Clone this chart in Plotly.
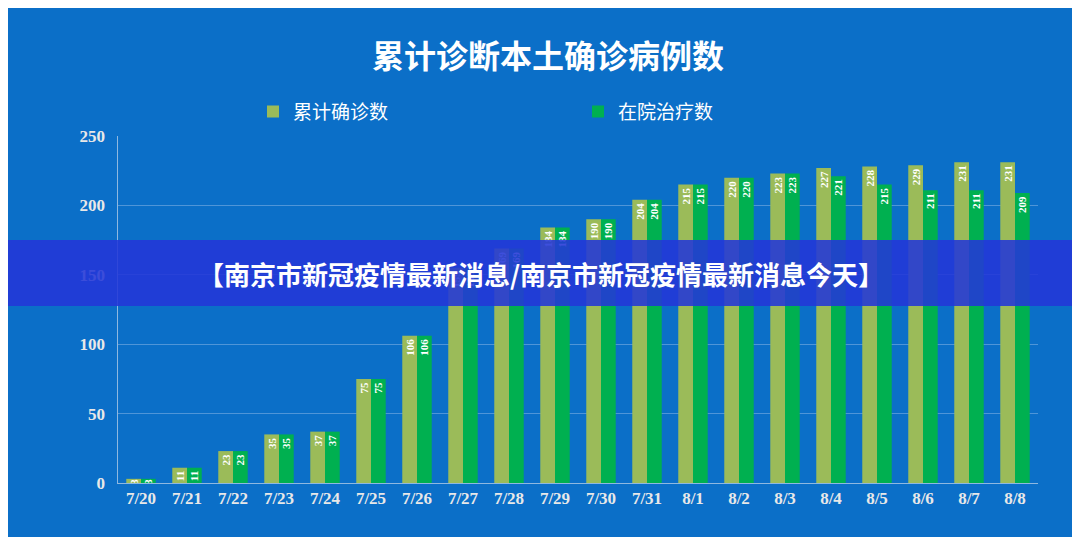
import plotly.graph_objects as go

dates = ["7/20", "7/21", "7/22", "7/23", "7/24", "7/25", "7/26", "7/27", "7/28", "7/29",
         "7/30", "7/31", "8/1", "8/2", "8/3", "8/4", "8/5", "8/6", "8/7", "8/8"]
cumulative = [3, 11, 23, 35, 37, 75, 106, 155, 169, 184, 190, 204, 215, 220, 223, 227, 228, 229, 231, 231]
in_hospital = [3, 11, 23, 35, 37, 75, 106, 155, 169, 184, 190, 204, 215, 220, 223, 221, 215, 211, 211, 209]

bg = "#0b6fc8"
fig = go.Figure()
fig.add_trace(go.Bar(x=dates, y=cumulative, name="累计确诊数", marker_color="#9bbb59",
                     text=cumulative, textposition="inside", insidetextanchor="end", textangle=-90))
fig.add_trace(go.Bar(x=dates, y=in_hospital, name="在院治疗数", marker_color="#00b050",
                     text=in_hospital, textposition="inside", insidetextanchor="end", textangle=-90))
fig.update_traces(marker_line_width=0,
                  textfont=dict(color="white", size=11, family="Liberation Sans Narrow"),
                  texttemplate="<b>%{text}</b>")

tick_font = dict(family="Liberation Serif", size=17, color="#e8e8e8")
fig.update_layout(
    width=1080, height=537,
    paper_bgcolor=bg, plot_bgcolor=bg,
    margin=dict(l=110, r=50, t=128, b=62),
    bargap=0.36, bargroupgap=0,
    uniformtext=dict(minsize=9, mode="show"),
    font=dict(family="Noto Sans CJK SC", color="white"),
    title=dict(text="<b>累计诊断本土确诊病例数</b>", x=0.5, y=0.91, xanchor="center", yanchor="middle",
               font=dict(size=32, color="white")),
    legend=dict(orientation="h", x=0.5, xanchor="center", y=1.07, yanchor="middle",
                font=dict(size=19, color="white"), traceorder="normal", entrywidth=280),
    xaxis=dict(showline=True, linecolor="#8fb8e0", tickfont=tick_font, ticks="", showgrid=False,
               tickprefix="<b>", ticksuffix="</b>"),
    yaxis=dict(range=[0, 250], dtick=50, showline=True, linecolor="#8fb8e0", gridcolor="#4f95d8",
               tickfont=tick_font, zeroline=False, tickprefix="<b>", ticksuffix="</b>  "),
)

fig.add_shape(type="rect", xref="paper", yref="paper", x0=-0.3, x1=1.2, y0=0.51, y1=0.70,
              fillcolor="rgba(35,55,215,0.88)", line_width=0, layer="above")
fig.add_annotation(text="<b>【南京市新冠疫情最新消息/南京市新冠疫情最新消息今天】</b>", xref="paper", yref="paper",
                   x=0.46, y=0.605, showarrow=False, font=dict(size=26, color="white", family="Noto Sans CJK SC"))

fig.write_html("out.html")
